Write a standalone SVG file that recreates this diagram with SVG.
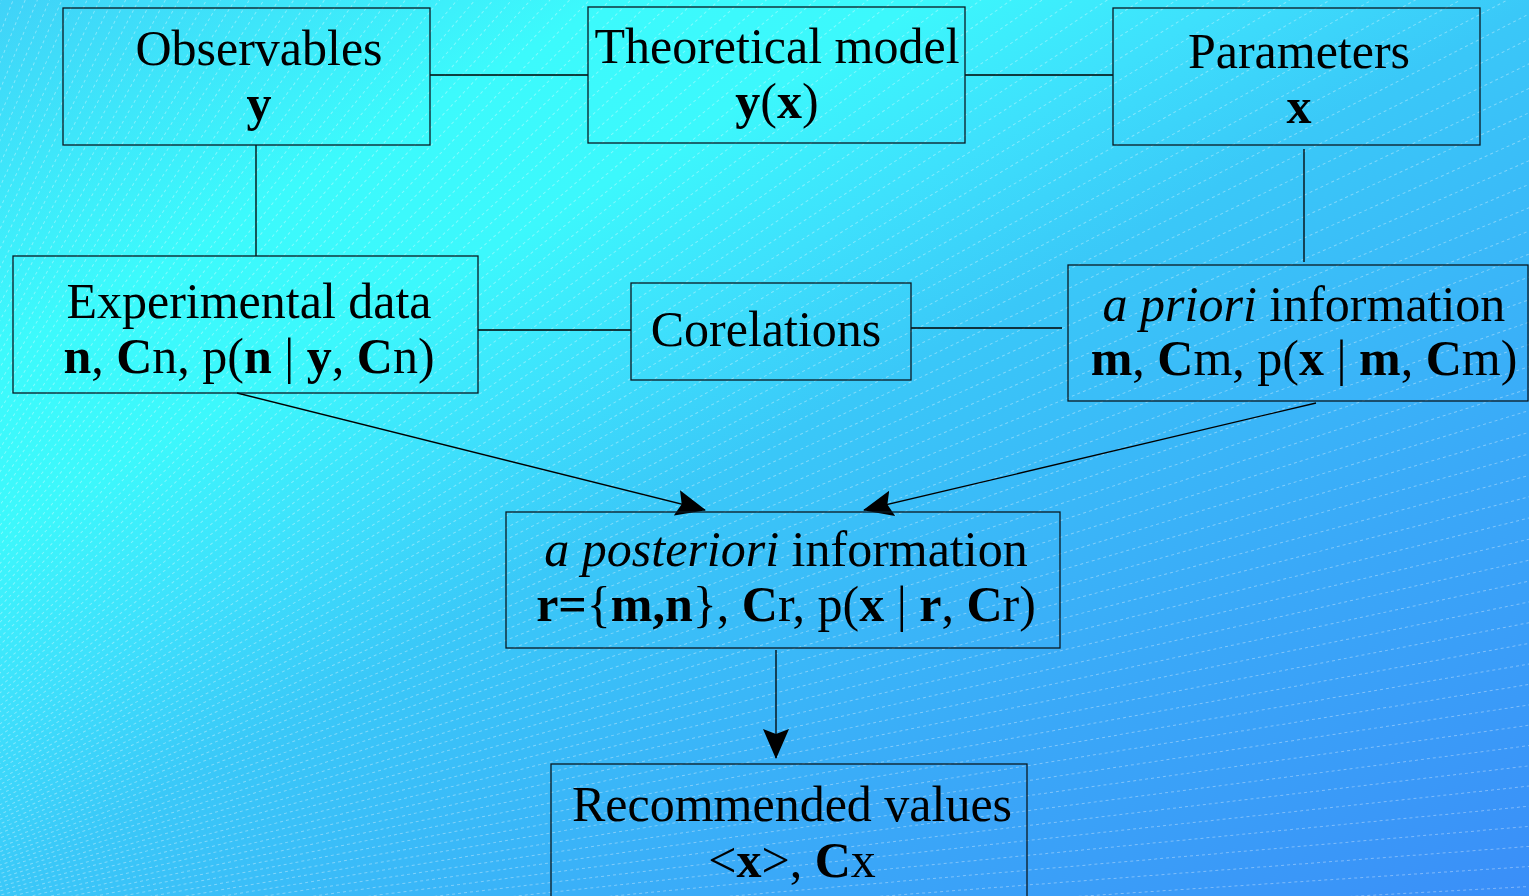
<svg xmlns="http://www.w3.org/2000/svg" xmlns:xlink="http://www.w3.org/1999/xlink" width="1529" height="896" viewBox="0 0 1529 896">
<style>
.box{fill:none;stroke:#0a1a22;stroke-width:1.3}
.ln{fill:none;stroke:#000;stroke-width:1.3}
.t{font-family:"Liberation Serif","Times New Roman",serif;font-size:50px;fill:#000;text-anchor:middle}
.b{font-weight:bold}
.i{font-style:italic}
.ray{stroke:#fff;stroke-opacity:0.35;stroke-width:1;stroke-dasharray:3 3}
</style>
<defs>
<linearGradient id="bg" gradientUnits="userSpaceOnUse" x1="0" y1="0" x2="770" y2="1334">
<stop offset="0" stop-color="#40d2f8"/>
<stop offset="0.2" stop-color="#3cfafc"/>
<stop offset="0.3" stop-color="#3cf8fc"/>
<stop offset="0.4" stop-color="#3ee0fc"/>
<stop offset="0.5" stop-color="#3ac8f8"/>
<stop offset="0.75" stop-color="#3aa8f8"/>
<stop offset="1" stop-color="#3a8ef8"/>
</linearGradient>
<line id="r" class="ray" x1="0" y1="0" x2="2600" y2="0"/>
<g id="f10">
<use href="#r"/><use href="#r" transform="rotate(-0.6)"/><use href="#r" transform="rotate(-1.2)"/><use href="#r" transform="rotate(-1.8)"/><use href="#r" transform="rotate(-2.4)"/><use href="#r" transform="rotate(-3)"/><use href="#r" transform="rotate(-3.6)"/><use href="#r" transform="rotate(-4.2)"/><use href="#r" transform="rotate(-4.8)"/><use href="#r" transform="rotate(-5.4)"/>
</g>
<marker id="ah" markerUnits="userSpaceOnUse" viewBox="0 0 30 26" refX="29" refY="13" markerWidth="30" markerHeight="26" orient="auto">
<path d="M0,0 L30,13 L0,26 L5,13 z" fill="#000"/>
</marker>
</defs>
<rect x="0" y="0" width="1529" height="896" fill="url(#bg)"/>
<g transform="translate(-376,993)">
<use href="#f10" transform="rotate(-2)"/><use href="#f10" transform="rotate(-8)"/><use href="#f10" transform="rotate(-14)"/><use href="#f10" transform="rotate(-20)"/><use href="#f10" transform="rotate(-26)"/><use href="#f10" transform="rotate(-32)"/><use href="#f10" transform="rotate(-38)"/><use href="#f10" transform="rotate(-44)"/><use href="#f10" transform="rotate(-50)"/><use href="#f10" transform="rotate(-56)"/><use href="#f10" transform="rotate(-62)"/><use href="#f10" transform="rotate(-68)"/>
</g>
<g id="connectors">
<line class="ln" x1="430" y1="75" x2="588" y2="75"/>
<line class="ln" x1="965" y1="75" x2="1113" y2="75"/>
<line class="ln" x1="256" y1="145" x2="256" y2="256"/>
<line class="ln" x1="1304" y1="149" x2="1304" y2="262"/>
<line class="ln" x1="478" y1="330" x2="631" y2="330"/>
<line class="ln" x1="911" y1="328" x2="1062" y2="328"/>
<line class="ln" x1="237" y1="393" x2="705" y2="510" marker-end="url(#ah)"/>
<line class="ln" x1="1316" y1="403" x2="864" y2="510" marker-end="url(#ah)"/>
<line class="ln" x1="776" y1="650" x2="776" y2="758" marker-end="url(#ah)"/>
</g>
<g id="observables">
<rect class="box" x="63" y="8" width="367" height="137"/>
<text class="t" x="259" y="65">Observables</text>
<text class="t b" x="259" y="120">y</text>
</g>
<g id="theoretical-model">
<rect class="box" x="588" y="7" width="377" height="136"/>
<text class="t" x="777" y="63">Theoretical model</text>
<text class="t" x="777" y="118"><tspan class="b">y</tspan>(<tspan class="b">x</tspan>)</text>
</g>
<g id="parameters">
<rect class="box" x="1113" y="8" width="367" height="137"/>
<text class="t" x="1299" y="68">Parameters</text>
<text class="t b" x="1299" y="123">x</text>
</g>
<g id="experimental-data">
<rect class="box" x="13" y="256" width="465" height="137"/>
<text class="t" x="249" y="318">Experimental data</text>
<text class="t" x="249" y="373"><tspan class="b">n</tspan>, <tspan class="b">C</tspan>n, p(<tspan class="b">n</tspan> | <tspan class="b">y</tspan>, <tspan class="b">C</tspan>n)</text>
</g>
<g id="corelations">
<rect class="box" x="631" y="283" width="280" height="97"/>
<text class="t" x="766" y="346">Corelations</text>
</g>
<g id="a-priori">
<rect class="box" x="1068" y="265" width="460" height="136"/>
<text class="t" x="1304" y="321"><tspan class="i">a priori</tspan> information</text>
<text class="t" x="1304" y="375"><tspan class="b">m</tspan>, <tspan class="b">C</tspan>m, p(<tspan class="b">x</tspan> | <tspan class="b">m</tspan>, <tspan class="b">C</tspan>m)</text>
</g>
<g id="a-posteriori">
<rect class="box" x="506" y="512" width="554" height="136"/>
<text class="t" x="786" y="566"><tspan class="i">a posteriori</tspan> information</text>
<text class="t" x="786" y="621"><tspan class="b">r=</tspan>{<tspan class="b">m,n</tspan>}, <tspan class="b">C</tspan>r, p(<tspan class="b">x</tspan> | <tspan class="b">r</tspan>, <tspan class="b">C</tspan>r)</text>
</g>
<g id="recommended-values">
<rect class="box" x="551" y="764" width="476" height="140"/>
<text class="t" x="792" y="821">Recommended values</text>
<text class="t" x="792" y="877">&lt;<tspan class="b">x</tspan>&gt;, <tspan class="b">C</tspan>x</text>
</g>
</svg>
